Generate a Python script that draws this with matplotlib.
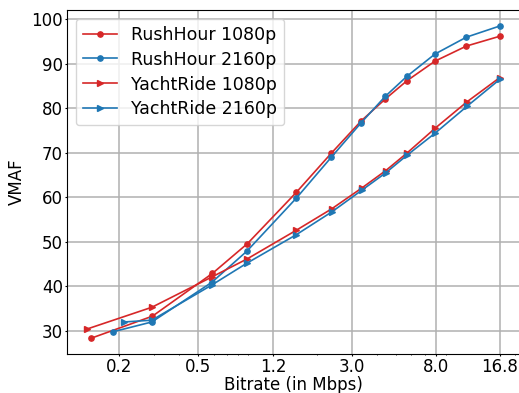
import numpy as np
import matplotlib
matplotlib.use('Agg')
import matplotlib.pyplot as plt

rush_1080_rate = [0.143, 0.294, 0.591, 0.889, 1.57, 2.36, 3.35, 4.43, 5.70, 7.90, 11.4, 16.8]
rush_1080_vmaf = [28.3, 33.3, 42.9, 49.6, 61.1, 69.9, 77.2, 82.1, 86.2, 90.6, 94.0, 96.2]
rush_2160_rate = [0.186, 0.292, 0.587, 0.883, 1.57, 2.36, 3.35, 4.43, 5.70, 7.90, 11.4, 16.8]
rush_2160_vmaf = [29.8, 32.0, 40.9, 47.9, 59.8, 69.0, 76.8, 82.7, 87.2, 92.2, 96.0, 98.5]
yacht_1080_rate = [0.137, 0.292, 0.587, 0.889, 1.57, 2.37, 3.37, 4.45, 5.72, 7.95, 11.5, 16.8]
yacht_1080_vmaf = [30.4, 35.3, 42.1, 46.2, 52.6, 57.4, 62.1, 66.0, 70.0, 75.6, 81.5, 86.9]
yacht_2160_rate = [0.212, 0.292, 0.587, 0.883, 1.57, 2.37, 3.37, 4.45, 5.72, 7.95, 11.5, 16.8]
yacht_2160_vmaf = [32.0, 32.4, 40.3, 45.2, 51.6, 56.7, 61.6, 65.5, 69.5, 74.5, 80.5, 86.5]

xtick_vals = [0.2, 0.5, 1.2, 3.0, 8.0, 16.8]
xtick_labels = ['0.2', '0.5', '1.2', '3.0', '8.0', '16.8']
ytick_vals = [30, 40, 50, 60, 70, 80, 90, 100]

red = '#d62728'
blue = '#1f77b4'

fig = plt.figure(figsize=(5.19, 3.93), dpi=100)
ax = fig.add_axes([67 / 519, 39 / 393, 453.5 / 519, 344 / 393])

ax.plot(rush_1080_rate, rush_1080_vmaf, color=red, marker='o', markersize=3.8, linewidth=1.2, label='RushHour 1080p')
ax.plot(rush_2160_rate, rush_2160_vmaf, color=blue, marker='o', markersize=3.8, linewidth=1.2, label='RushHour 2160p')
ax.plot(yacht_1080_rate, yacht_1080_vmaf, color=red, marker='>', markersize=4.2, linewidth=1.2, label='YachtRide 1080p')
ax.plot(yacht_2160_rate, yacht_2160_vmaf, color=blue, marker='>', markersize=4.2, linewidth=1.2, label='YachtRide 2160p')

ax.set_xscale('log')
ax.set_xlim(0.1087, 21.4)
ax.set_ylim(24.8, 102.1)
ax.set_xticks(xtick_vals)
ax.set_xticklabels(xtick_labels)
ax.set_yticks(ytick_vals)
ax.tick_params(axis='both', which='major', labelsize=12, length=1.5, pad=1.5)
ax.tick_params(axis='both', which='minor', length=1.0)
ax.set_xlabel('Bitrate (in Mbps)', fontsize=12, labelpad=0)
ax.set_ylabel('VMAF', fontsize=12)
ax.grid(True, which='major', color='#b0b0b0', linewidth=1.1)
ax.legend(loc='upper left', fontsize=12.5, handlelength=2.0, labelspacing=0.4)

fig.savefig('out.png', dpi=100)
